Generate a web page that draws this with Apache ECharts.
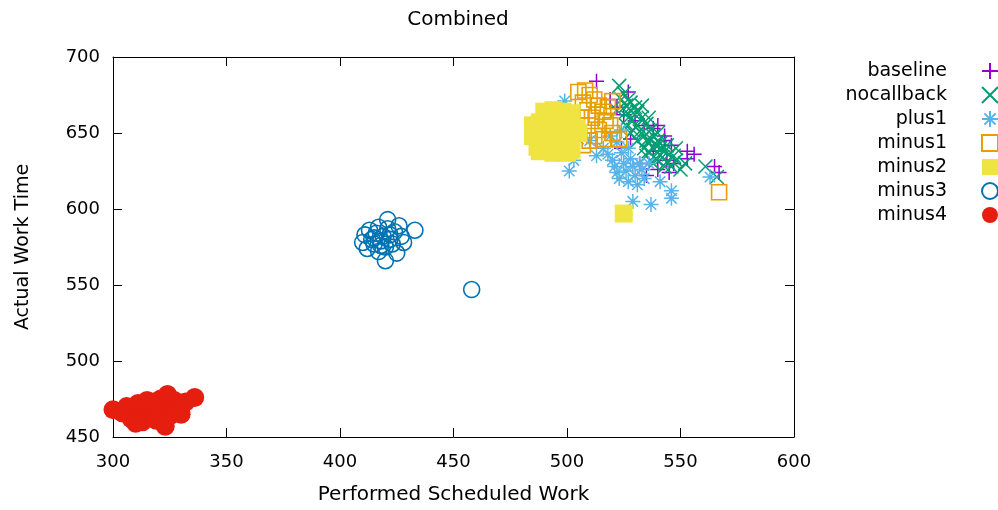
<!DOCTYPE html>
<html>
<head>
<meta charset="utf-8">
<script src="https://cdn.jsdelivr.net/npm/echarts@6/dist/echarts.min.js"></script>
<style>
  html, body { margin: 0; padding: 0; background: #fff; }
  #chart { width: 998px; height: 510px; }
</style>
</head>
<body>
<div id="chart"></div>
<script>
// [Performed Scheduled Work, Actual Work Time] pairs for each run
const baseline = [
  [513,684],[519,672],[522,667],[527,677],[525,662],[530,658],[534,655],[538,653],
  [540,655],[543,648],[543,645],[546,642],[538,638],[553,638],[553,633],[547,630],
  [544,632],[532,630],[540,626],[535,622],[545,624],[556,636],[565,628],[567,624],
  [528,646],[524,640]
];
const nocallback = [
  [523,681],[525,676],[527,672],[526,668],[528,665],[530,662],[529,658],[531,655],
  [533,660],[532,651],[535,656],[534,648],[537,652],[536,644],[538,640],[540,637],
  [541,643],[542,634],[543,638],[544,631],[545,636],[546,628],[548,632],[550,626],
  [552,630],[527,660],[530,667],[561,628],[566,621],[524,672],[526,664],[528,670],
  [531,664],[533,650],[535,645],[537,646],[539,642],[541,640],[539,633],[543,628],
  [536,638],[540,645],[522,665],[529,652],[538,630],[547,635],[534,640],
  [528,650],[531,645],[536,660],[540,650],[544,642],[548,640],[535,635],[526,655],
  [533,668],[538,648]
];
const plus1 = [
  [501,625],[503,632],[513,635],[516,640],[518,636],[520,632],[521,628],[522,624],
  [523,620],[524,637],[525,630],[526,625],[527,618],[528,633],[529,628],[530,622],
  [531,616],[532,630],[533,626],[534,620],[522,644],[527,640],[519,648],[524,652],
  [529,605],[537,603],[546,607],[546,612],[563,621],[541,618],[536,630],[510,645],
  [499,671],[505,646]
];
const minus1 = [
  [505,677],[508,678],[510,675],[507,670],[512,672],[520,671],[514,668],[509,665],
  [516,664],[511,660],[517,658],[509,655],[514,652],[519,655],[512,648],[516,646],
  [523,646],[507,642],[510,645],[520,650],[513,662],[506,660],[518,667],[567,611]
];
const minus2 = [
  [490,664],[494,665],[498,664],[502,663],[485,655],[488,657],[492,656],[496,654],
  [500,656],[504,653],[485,648],[489,650],[493,648],[497,649],[501,647],[505,650],
  [487,641],[491,643],[495,640],[499,642],[502,639],[488,638],[494,637],[500,637],
  [525,597]
];
const minus3 = [
  [410,578],[411,583],[412,574],[413,586],[414,580],[415,577],[416,584],[417,572],
  [417,588],[418,579],[419,582],[420,566],[420,575],[421,587],[421,593],[422,580],
  [423,577],[424,585],[425,571],[426,589],[427,582],[428,578],[433,586],[415,581],
  [418,576],[422,583],[458,547]
];
const minus4 = [
  [300,468],[304,466],[306,470],[308,462],[309,467],[311,472],[312,464],[313,460],
  [314,469],[316,466],[317,473],[318,463],[320,470],[321,475],[322,467],[323,457],
  [324,478],[325,464],[326,471],[327,474],[328,468],[329,466],[330,465],[332,473],
  [336,476],[310,459],[319,461],[315,474]
];

const xTicks = { min: 300, max: 600, step: 50 };
const yTicks = { min: 450, max: 700, step: 50 };

const FONT = 'DejaVu Sans';
const PLUS = 'path://M0,5L10,5M5,0L5,10';
const CROSS = 'path://M0,0L10,10M0,10L10,0';
const STAR = 'path://M0,5L10,5M5,0L5,10M1.5,1.5L8.5,8.5M1.5,8.5L8.5,1.5';
const SQUARE = 'path://M0,0L10,0L10,10L0,10Z';

function strokeSeries(name, data, symbol, size, color, width) {
  return {
    name, type: 'scatter', data, symbol, symbolSize: size,
    itemStyle: { color: 'transparent', borderColor: color, borderWidth: width, opacity: 1 },
    emphasis: { disabled: true }
  };
}
function fillSeries(name, data, symbol, size, color) {
  return {
    name, type: 'scatter', data, symbol, symbolSize: size,
    itemStyle: { color: color, opacity: 1 },
    emphasis: { disabled: true }
  };
}

const chart = echarts.init(document.getElementById('chart'), null, { renderer: 'canvas' });

const axisCommon = {
  axisLine: { show: true, onZero: false, lineStyle: { color: '#000', width: 1 } },
  axisTick: { show: true, inside: true, length: 9, lineStyle: { color: '#000', width: 1 } },
  splitLine: { show: false }
};

chart.setOption({
  animation: false,
  backgroundColor: '#fff',
  title: {
    text: 'Combined', left: 453, top: 5, textAlign: 'center',
    textStyle: { fontFamily: FONT, fontSize: 20, fontWeight: 'normal', color: '#000' }
  },
  grid: { left: 113, right: 204, top: 57, bottom: 72 },
  legend: {
    orient: 'vertical', left: 832, top: 56, align: 'right',
    itemWidth: 76, itemHeight: 16, itemGap: 4, symbolKeepAspect: true,
    textStyle: { fontFamily: FONT, fontSize: 19, lineHeight: 20, color: '#000', width: 110, align: 'right' },
    selectedMode: false
  },
  xAxis: [
    Object.assign({
      type: 'value', min: xTicks.min, max: xTicks.max, interval: xTicks.step,
      name: 'Performed Scheduled Work', nameLocation: 'middle', nameGap: 48,
      nameTextStyle: { fontFamily: FONT, fontSize: 20, color: '#000' },
      axisLabel: { fontFamily: FONT, fontSize: 18, color: '#000', margin: 16 }
    }, axisCommon),
    Object.assign({
      type: 'value', position: 'top', min: xTicks.min, max: xTicks.max, interval: xTicks.step,
      axisLabel: { show: false }
    }, axisCommon)
  ],
  yAxis: [
    Object.assign({
      type: 'value', min: yTicks.min, max: yTicks.max, interval: yTicks.step,
      name: 'Actual Work Time', nameLocation: 'middle', nameGap: 80,
      nameTextStyle: { fontFamily: FONT, fontSize: 19, color: '#000' },
      axisLabel: { fontFamily: FONT, fontSize: 18, color: '#000', margin: 13 }
    }, axisCommon),
    Object.assign({
      type: 'value', position: 'right', min: yTicks.min, max: yTicks.max, interval: yTicks.step,
      axisLabel: { show: false }
    }, axisCommon)
  ],
  series: [
    strokeSeries('baseline', baseline, PLUS, 15, '#9400D3', 1.5),
    strokeSeries('nocallback', nocallback, CROSS, 14, '#009E73', 1.5),
    strokeSeries('plus1', plus1, STAR, 15, '#56B4E9', 1.5),
    strokeSeries('minus1', minus1, SQUARE, 15, '#E69F00', 1.6),
    fillSeries('minus2', minus2, SQUARE, 18, '#F0E442'),
    strokeSeries('minus3', minus3, 'circle', 16, '#0072B2', 1.6),
    fillSeries('minus4', minus4, 'circle', 19, '#E51E10')
  ]
});
</script>
</body>
</html>
